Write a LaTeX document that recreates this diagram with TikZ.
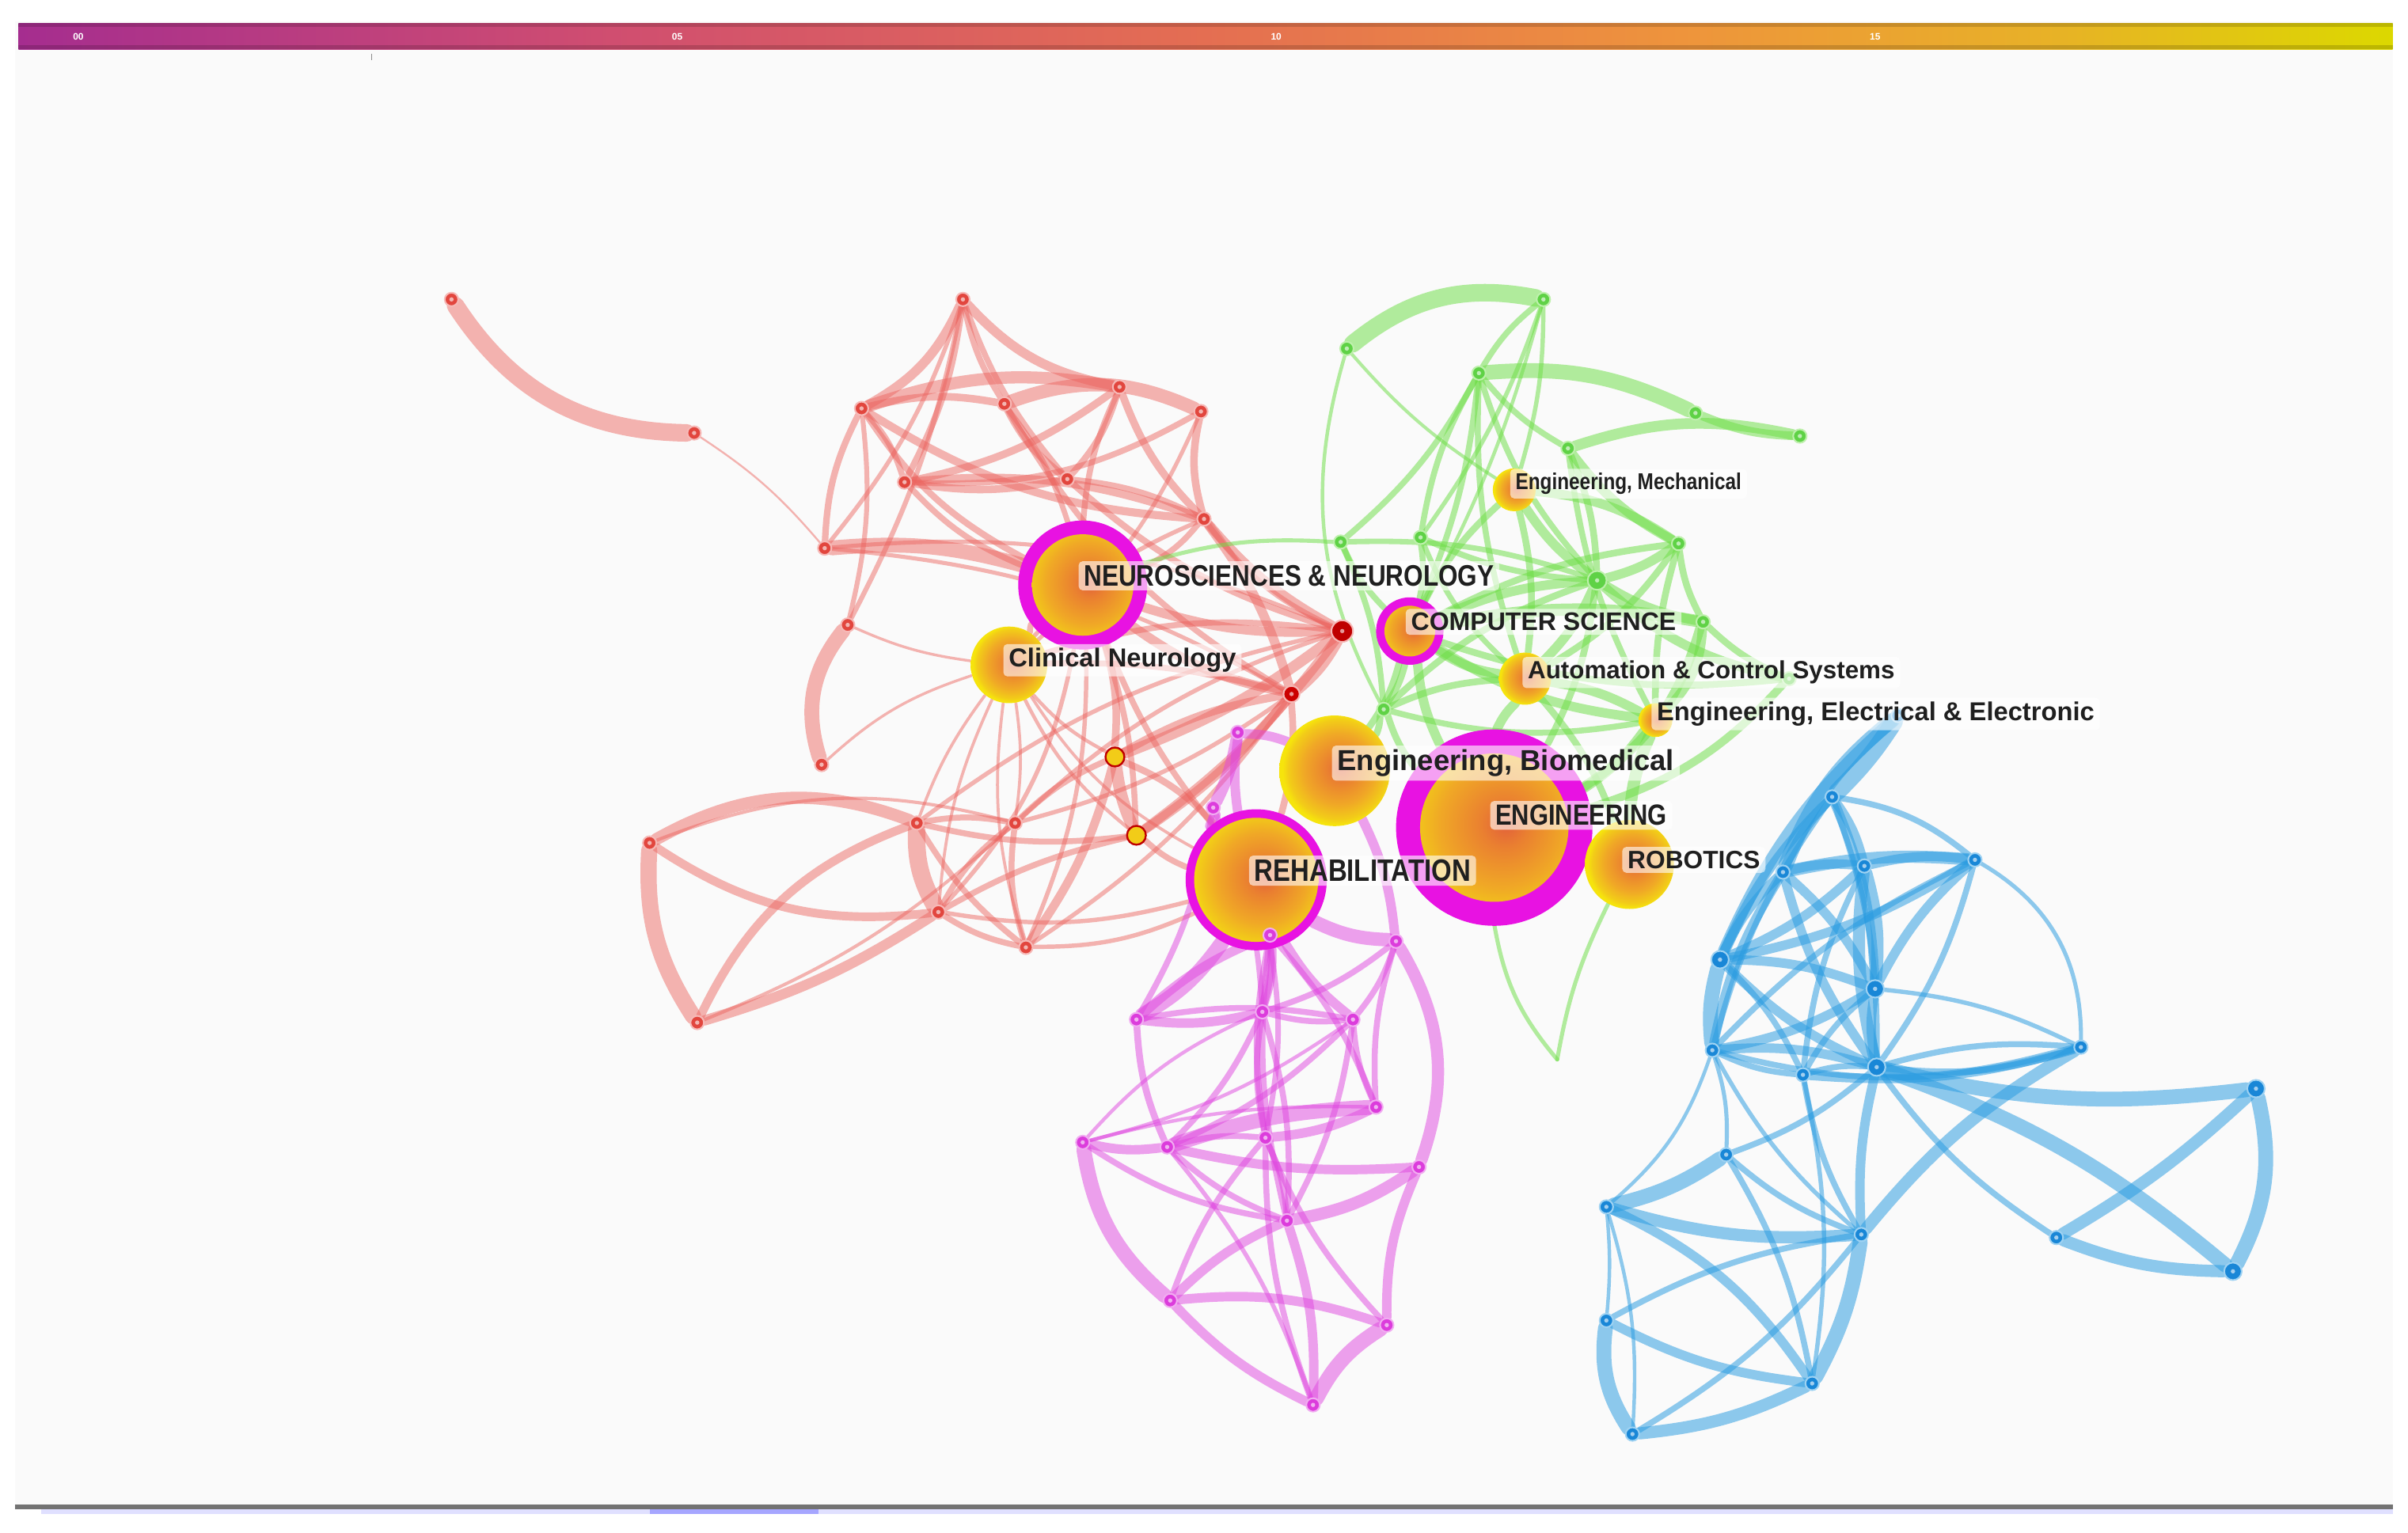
\documentclass[tikz,border=0pt]{standalone}
\usepackage{fontspec}
\setsansfont{Liberation Sans}
\newfontfamily\labf{Liberation Sans}
\newfontfamily\condf[FakeStretch=0.84]{Liberation Sans}
\definecolor{redE}{RGB}{236,100,95}
\definecolor{redN}{RGB}{226,70,62}
\definecolor{greenE}{RGB}{110,222,70}
\definecolor{greenN}{RGB}{95,210,70}
\definecolor{magE}{RGB}{224,70,224}
\definecolor{magN}{RGB}{220,60,220}
\definecolor{blueE}{RGB}{40,155,225}
\definecolor{blueN}{RGB}{25,135,215}
\definecolor{hubmag}{RGB}{232,18,226}
\definecolor{panel}{RGB}{250,250,250}
\definecolor{glowA}{RGB}{226,96,58}
\definecolor{glowB}{RGB}{234,128,48}
\definecolor{glowC}{RGB}{240,168,38}
\definecolor{glowD}{RGB}{242,204,24}
\definecolor{glowE}{RGB}{246,228,12}
\definecolor{cbA}{RGB}{165,45,143}
\definecolor{cbB}{RGB}{208,78,112}
\definecolor{cbC}{RGB}{228,110,82}
\definecolor{cbD}{RGB}{238,148,60}
\definecolor{cbE}{RGB}{232,176,40}
\definecolor{cbF}{RGB}{220,216,0}
\pgfdeclareradialshading{glow}{\pgfpoint{3bp}{1bp}}{color(0bp)=(glowA); color(6bp)=(glowB); color(16bp)=(glowC); color(22.5bp)=(glowD); color(25bp)=(glowE); color(50bp)=(glowE)}
\pgfdeclarehorizontalshading{cbar}{100bp}{color(0bp)=(cbA); color(25bp)=(cbA); color(37.5bp)=(cbB); color(50bp)=(cbC); color(60bp)=(cbD); color(67.5bp)=(cbE); color(75bp)=(cbF); color(100bp)=(cbF)}
\pgfdeclarelayer{bg}
\pgfdeclarelayer{edges}
\pgfdeclarelayer{labels}
\pgfsetlayers{bg,edges,main,labels}
\tikzset{
  dotn/.style={circle,inner sep=0pt,minimum size=5pt,line width=0.6pt,
    path picture={\fill[white,fill opacity=0.6] (path picture bounding box.center) circle (0.8pt);}},
  rn/.style={dotn,fill=redN,draw=redE!45!white},
  gn/.style={dotn,fill=greenN,draw=greenE!45!white},
  mn/.style={dotn,fill=magN,draw=magE!45!white},
  bn/.style={dotn,fill=blueN,draw=blueE!45!white},
  yn/.style={circle,inner sep=0pt,minimum size=7pt,fill=glowD,draw=red!75!black,line width=0.7pt},
  hub/.style={circle,inner sep=0pt,minimum size=#1,shading=glow},
  ringhub/.style 2 args={circle,inner sep=0pt,minimum size=#1,fill=hubmag,
    path picture={\shade[shading=glow] (path picture bounding box.center) circle (#2);}},
  edgeR/.style={draw=redE,draw opacity=0.48,line cap=round},
  edgeG/.style={draw=greenE,draw opacity=0.52,line cap=round},
  edgeM/.style={draw=magE,draw opacity=0.5,line cap=round},
  edgeB/.style={draw=blueE,draw opacity=0.52,line cap=round},
  lab/.style={anchor=west,fill=white,fill opacity=0.6,text opacity=1,rounded corners=1.5pt,
    inner xsep=2pt,inner ysep=1.5pt,text=black!88},
  tick/.style={text=white,font=\labf\bfseries\fontsize{3.5}{4}\selectfont,inner sep=0pt}
}
\begin{document}
\begin{tikzpicture}[x=0.02cm,y=-0.02cm]
\useasboundingbox (0,0) rectangle (1568,998);
\begin{pgfonlayer}{bg}
\fill[white] (0,0) rectangle (1568,998);
\fill[panel] (10,14) rectangle (1558,981);
\shade[shading=cbar] (12,15) rectangle (1558,32);
\fill[black,fill opacity=0.15] (12,15) rectangle (1558,17.5);
\fill[black,fill opacity=0.15] (12,29.5) rectangle (1558,32);
\draw[black!45,line width=0.4pt] (242,35) -- (242,39);
\fill[black!55] (10,980) rectangle (1558,983);
\fill[blue!12!white] (27,983) rectangle (1558,986);
\fill[blue!35!white] (423,983) rectangle (533,986);
\end{pgfonlayer}
\node[tick] (t0) at (51,24) {00};
\node[tick] (t1) at (441,24) {05};
\node[tick] (t2) at (831,24) {10};
\node[tick] (t3) at (1221,24) {15};
% hubs
\node[ringhub={47.8pt}{18.8pt}] (NEU) at (705,381) {};
\node[ringhub={25pt}{9.4pt}] (COMP) at (918,411) {};
\node[ringhub={72.8pt}{27.5pt}] (ENG) at (973,539) {};
\node[ringhub={52.3pt}{23pt}] (REH) at (818,573) {};
\node[hub=28.4pt] (CLN) at (657,433) {};
\node[hub=15.9pt] (EMC) at (986,319) {};
\node[hub=19.3pt] (AUTO) at (993,442) {};
\node[hub=12.5pt] (EEE) at (1078,469) {};
\node[hub=41pt] (BIO) at (869,502) {};
\node[hub=33pt] (ROB) at (1061,563) {};
% red nodes
\node[rn] (r1) at (294,195) {};
\node[rn] (r2) at (452,282) {};
\node[rn] (r3) at (627,195) {};
\node[rn] (r4) at (561,266) {};
\node[rn] (r5) at (654,263) {};
\node[rn] (r6) at (729,252) {};
\node[rn] (r7) at (782,268) {};
\node[rn] (r8) at (589,314) {};
\node[rn] (r9) at (695,312) {};
\node[rn] (r10) at (784,338) {};
\node[rn] (r11) at (537,357) {};
\node[rn] (r12) at (552,407) {};
\node[rn] (r13) at (535,498) {};
\node[rn,minimum size=8pt,fill=red!75!black] (r14) at (874,411) {};
\node[rn,minimum size=6pt,fill=red!80!black] (r15) at (841,452) {};
\node[yn] (r16) at (726,493) {};
\node[yn] (r17) at (740,544) {};
\node[rn] (r18) at (597,536) {};
\node[rn] (r19) at (423,549) {};
\node[rn] (r20) at (661,536) {};
\node[rn] (r21) at (611,594) {};
\node[rn] (r22) at (668,617) {};
\node[rn] (r23) at (454,666) {};
% green nodes
\node[gn] (g1) at (1005,195) {};
\node[gn] (g2) at (877,227) {};
\node[gn] (g3) at (963,243) {};
\node[gn] (g4) at (1104,269) {};
\node[gn] (g5) at (1172,284) {};
\node[gn] (g6) at (1021,292) {};
\node[gn] (g7) at (1093,354) {};
\node[gn] (g8) at (873,353) {};
\node[gn] (g9) at (925,350) {};
\node[gn,minimum size=7pt] (g10) at (1040,378) {};
\node[gn] (g11) at (1109,405) {};
\node[gn] (g12) at (901,462) {};
\node[gn] (g14) at (1165,442) {};
\coordinate (g13) at (1014,690);
% magenta nodes
\node[mn] (m1) at (806,477) {};
\node[mn] (m2) at (790,526) {};
\node[mn] (m3) at (827,609) {};
\node[mn] (m4) at (909,613) {};
\node[mn] (m5) at (740,664) {};
\node[mn] (m6) at (822,659) {};
\node[mn] (m7) at (881,664) {};
\node[mn] (m8) at (896,721) {};
\node[mn] (m9) at (824,741) {};
\node[mn] (m10) at (760,747) {};
\node[mn] (m11) at (705,744) {};
\node[mn] (m12) at (924,760) {};
\node[mn] (m13) at (838,795) {};
\node[mn] (m14) at (762,847) {};
\node[mn] (m15) at (903,863) {};
\node[mn] (m16) at (855,915) {};
% blue nodes
\node[bn] (b0) at (1236,466) {};
\node[bn] (b1) at (1193,519) {};
\node[bn] (b2) at (1161,568) {};
\node[bn] (b3) at (1214,564) {};
\node[bn] (b4) at (1286,560) {};
\node[bn,minimum size=6.5pt] (b5) at (1120,625) {};
\node[bn,minimum size=6.5pt] (b6) at (1221,644) {};
\node[bn] (b7) at (1115,684) {};
\node[bn] (b8) at (1174,700) {};
\node[bn,minimum size=6.5pt] (b9) at (1222,695) {};
\node[bn] (b10) at (1355,682) {};
\node[bn,minimum size=6.5pt] (b11) at (1469,709) {};
\node[bn] (b12) at (1124,752) {};
\node[bn] (b13) at (1046,786) {};
\node[bn] (b14) at (1212,804) {};
\node[bn] (b15) at (1339,806) {};
\node[bn,minimum size=6.5pt] (b16) at (1454,828) {};
\node[bn] (b17) at (1046,860) {};
\node[bn] (b18) at (1180,901) {};
\node[bn] (b19) at (1063,934) {};
\begin{pgfonlayer}{edges}
\foreach \a/\b/\c/\w in {r1/r2/-28/6.5, r2/r11/8/0.7, r3/r4/18/3.5, r3/r6/-18/3.5, r3/r5/-10/2.2, r3/r8/10/2.4,
 r3/r9/-10/2.2, r3/r12/8/1.8, r3/r11/10/1.6, r4/r6/14/4.5, r4/r5/12/2.8, r5/r7/22/5, r4/r8/12/2.2, r4/r11/-12/2.4,
 r4/r12/10/1.8, r4/NEU/-14/2.4, r4/r10/-14/3, r5/r9/-12/2.8, r5/NEU/10/2, r5/r15/-14/2.2, r6/r9/12/2.4,
 r6/r10/-12/2.8, r6/NEU/-10/2.2, r6/r8/12/2.8, r7/r10/-14/2.8, r7/r8/16/2.2, r7/CLN/12/1.5, r8/r9/-10/2.8,
 r8/r10/12/3, r8/NEU/-12/2.2, r9/r10/10/2.2, r9/r14/-12/2.4, r10/r14/-10/3.5, r10/r15/10/3.5, r10/NEU/12/2.2,
 r11/NEU/10/5.5, r11/r14/14/1.5, r11/r15/12/1.5, r12/r13/-28/5.5, r12/CLN/-8/1, r13/CLN/12/1,
 CLN/r14/12/2.2, CLN/r15/8/2.2, CLN/r16/-10/1.3, CLN/r17/-12/1.3, CLN/r20/8/1.1, CLN/r18/-8/1.1, CLN/r21/-10/1.1,
 CLN/r22/-12/1.1, CLN/REH/-14/1.1, CLN/NEU/10/2.2, CLN/r10/12/1.6, NEU/r14/-10/3.5, NEU/r15/-12/3.5, NEU/r16/10/2.8,
 NEU/r17/8/2.2, NEU/r22/12/1.6, NEU/REH/-8/2.2, NEU/r21/16/1.6, r14/r15/10/4.5, r14/r16/8/4, r14/r17/8/3.5,
 r15/r17/8/3.5, r15/r16/-10/3, r16/r17/-8/4.5, r16/r22/10/3.2, r17/REH/-10/2.2, r19/r18/25/4.5, r19/r23/-18/6,
 r19/r21/-20/3.2, r23/r18/22/3.2, r23/r21/-8/3.8, r18/r21/-15/6.5, r18/r20/10/2.2, r18/r22/-10/2.2, r21/r20/12/2.2,
 r21/r22/-10/2.2, r20/r22/-12/2.2, r18/r17/-10/2.2, r21/r17/8/2.2, r21/REH/-12/1.6, r22/REH/-12/1.6, r20/r16/10/2.2,
 r18/r14/12/1.6, r20/r15/-10/1.6, r20/r14/12/1.6, r22/r15/-10/1.6, r19/r20/18/1.2, r23/r20/-10/1.2, r16/REH/12/2.5,
 r15/REH/10/2.5, r14/r10/14/2}
  \draw[edgeR,line width=\w pt] (\a) to[bend left=\c] (\b);
\foreach \a/\b/\c/\w in {g2/g1/25/6.5, g2/g12/-22/1.3, g2/EMC/-8/1.2, g1/g3/-10/2.2, g1/EMC/8/1.6, g1/g9/8/1.6,
 g1/COMP/6/1.3, g3/g4/15/5.5, g6/g5/15/4, g4/g5/-10/3.2, g3/g6/-10/2.2, g3/g8/10/2.2, g3/g9/-10/2.2, g3/COMP/8/2.2,
 g3/AUTO/-10/2.2, EMC/g7/14/3.5, EMC/g10/-10/3.5, EMC/AUTO/10/2.5, EMC/COMP/-10/2.5, g6/g7/-12/3.5, g6/g10/10/2.5, g6/EEE/-10/2.2,
 g7/g10/10/3.5, g7/g11/-10/2.5, g7/AUTO/12/2.5, g7/COMP/-10/2.5, g7/EEE/-8/2.5, g8/COMP/-10/2.2, g8/g12/10/2.2, g9/COMP/10/2.2,
 g9/g10/-10/2.2, g10/COMP/-10/3.5, g10/AUTO/10/3.5, g10/g11/-10/3.5, g10/ENG/10/2.5, COMP/g11/10/4.5, COMP/AUTO/-12/3.5,
 COMP/EEE/-12/3.5, COMP/ENG/-10/3.5, COMP/BIO/10/2.5, COMP/g12/10/2.5, g11/EEE/20/3.5, g11/ENG/20/3.5, AUTO/EEE/10/3.5,
 AUTO/ENG/-10/3.5, AUTO/ROB/10/2.5, AUTO/g12/-10/2.5, EEE/ENG/10/3.5, EEE/ROB/-10/4.5, g12/BIO/10/2.5, g12/ENG/-10/2.5,
 ENG/g13/-15/1.5, ROB/g13/-8/1.5, g10/g14/-15/3.5, g11/g14/-10/2.5, g14/ENG/15/3, g8/NEU/-10/1.5, g9/AUTO/-12/2,
 g12/g10/12/2.5, g8/g10/10/2, COMP/g14/-12/2.5, g12/EEE/-12/2.2, g3/g10/-12/2.2}
  \draw[edgeG,line width=\w pt] (\a) to[bend left=\c] (\b);
\foreach \a/\b/\c/\w in {m1/m2/8/4.5, m1/REH/-8/3.5, m1/BIO/10/3.5, m2/REH/-10/3.5, m2/m5/10/2.2, REH/m4/-12/5,
 BIO/m4/10/3.5, m5/REH/-12/5.5, m5/m6/-10/3.5, m5/m7/10/2.2, m5/m3/10/3.5, m3/m6/10/2.2, m3/m9/-10/2.2, m3/m8/10/2.2, m3/m13/-10/2.2,
 m4/m7/10/2.2, m4/m12/25/4.5, m4/m8/-10/2.2, m4/m6/10/2.2, m6/m7/-10/2.2, m6/m11/-12/1.3, m6/m10/10/2.2, m6/m9/-10/2.2,
 m6/m13/10/2.2, m7/m10/10/2.2, m7/m11/10/1.3, m7/m8/-10/2.2, m7/m13/10/2.2, m11/m10/-10/3.5, m11/m14/-20/5.5, m11/m13/-12/2.2,
 m11/m8/8/1.3, m10/m8/8/5.5, m10/m12/-8/3.5, m10/m9/10/2.2, m10/m13/-10/2.2, m10/m16/10/1.6, m9/m8/-10/3.5, m9/m16/-10/2.2,
 m9/m13/10/2.2, m9/m15/-10/2.2, m12/m13/12/4.5, m12/m15/-12/3.5, m13/m14/-10/3.5, m13/m16/10/3.5, m14/m15/12/3.5,
 m14/m16/-10/3.5, m15/m16/-15/5.5, m14/m9/10/2.2, REH/m6/10/3.5, REH/m7/-10/3.5, m2/m6/10/2, REH/m9/10/2, m5/m10/-10/2.5}
  \draw[edgeM,line width=\w pt] (\a) to[bend left=\c] (\b);
\foreach \a/\b/\c/\w in {b0/b1/6/6.5, b0/b2/-15/5.5, b0/b5/-12/4.5, b1/b2/-10/3.5, b1/b3/10/3.5, b1/b4/15/2.2, b1/b6/10/3.5,
 b1/b5/-10/3.5, b1/b7/-10/2.2, b1/b9/10/2.2, b2/b3/10/3.5, b2/b4/8/4.5, b2/b5/-10/3.5, b2/b6/10/3.5, b2/b9/-10/3.5, b2/b7/-10/3.5,
 b3/b4/10/3.5, b3/b6/10/4.5, b3/b9/-10/4.5, b3/b5/10/3.5, b3/b8/-10/2.2, b4/b6/-10/3.5, b4/b9/10/2.2, b4/b7/-10/2.2, b4/b10/30/1.5,
 b4/b5/10/3.5, b5/b7/-10/5.5, b5/b6/10/3.5, b5/b9/-10/3.5, b5/b8/10/2.2, b6/b7/10/3.5, b6/b9/-10/3.5, b6/b10/10/1.6, b6/b8/-10/2.2,
 b7/b8/-10/2.2, b7/b9/10/3.5, b7/b14/-10/1.6, b7/b13/15/1.3, b7/b10/-15/2.2, b8/b9/10/2.2, b8/b10/-10/3.5, b8/b14/-10/2.2,
 b8/b18/10/1.6, b9/b11/-10/5.5, b9/b16/10/5.5, b9/b15/-10/2.2, b9/b14/-8/3.5, b9/b10/10/2.2, b10/b14/-10/4.5,
 b11/b15/6/4.5, b11/b16/20/5.5, b15/b16/-10/4.5, b12/b13/10/5.5, b12/b14/-10/2.2, b12/b18/10/2.2, b13/b14/-10/4.5,
 b13/b18/15/3.5, b13/b17/5/1.3, b13/b19/10/1.3, b14/b18/10/5.5, b14/b17/-10/2.2, b14/b19/10/2.2, b17/b19/-20/5.5,
 b17/b18/-10/3.5, b19/b18/-10/4.5, b12/b9/-10/2.2, b10/b9/12/2.5, b7/b12/10/1.5}
  \draw[edgeB,line width=\w pt] (\a) to[bend left=\c] (\b);
\end{pgfonlayer}
\begin{pgfonlayer}{labels}
\node[lab,font=\condf\bfseries\fontsize{11}{12}\selectfont] (lNEU) at (702,375) {NEUROSCIENCES \& NEUROLOGY};
\node[lab,font=\labf\bfseries\fontsize{9.4}{11}\selectfont] (lCOMP) at (915,405) {COMPUTER SCIENCE};
\node[lab,font=\labf\bfseries\fontsize{9.6}{11}\selectfont] (lCLN) at (653,430) {Clinical Neurology};
\node[lab,font=\condf\bfseries\fontsize{8.5}{10}\selectfont] (lEMC) at (983,315) {Engineering, Mechanical};
\node[lab,font=\labf\bfseries\fontsize{9.2}{11}\selectfont] (lAUTO) at (991,438) {Automation \& Control Systems};
\node[lab,font=\labf\bfseries\fontsize{9.6}{11}\selectfont] (lEEE) at (1075,465) {Engineering, Electrical \& Electronic};
\node[lab,font=\labf\bfseries\fontsize{10.7}{12}\selectfont] (lBIO) at (867,497) {Engineering, Biomedical};
\node[lab,font=\condf\bfseries\fontsize{10.8}{12}\selectfont] (lENG) at (970,531) {ENGINEERING};
\node[lab,font=\labf\bfseries\fontsize{9.3}{11}\selectfont] (lROB) at (1056,560) {ROBOTICS};
\node[lab,font=\condf\bfseries\fontsize{11.5}{13}\selectfont] (lREH) at (813,567) {REHABILITATION};
\end{pgfonlayer}
\end{tikzpicture}
\end{document}
